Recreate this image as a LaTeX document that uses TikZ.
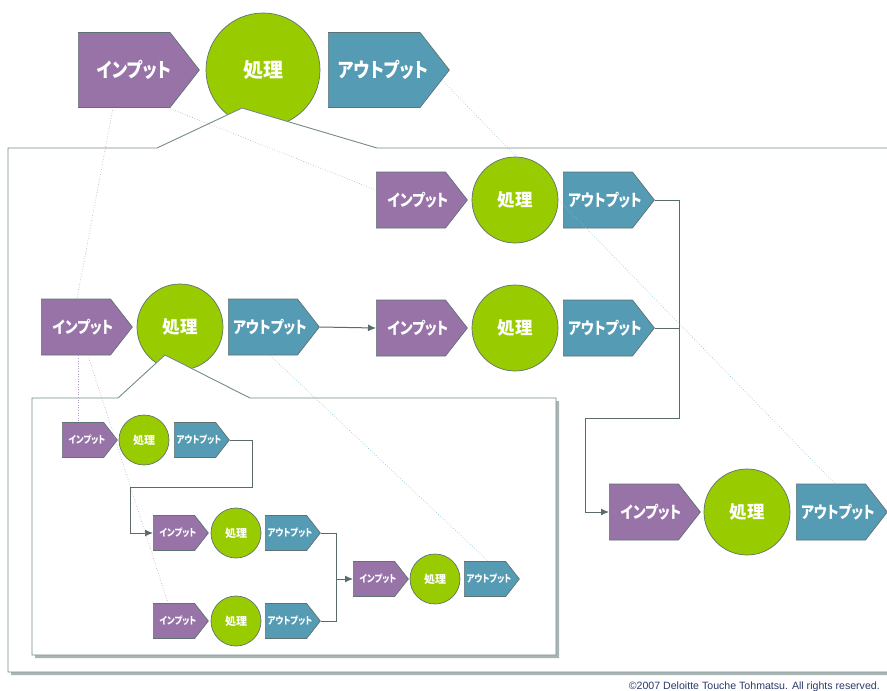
\documentclass[tikz,border=0pt]{standalone}
\usepackage{fontspec}
\usetikzlibrary{shapes.symbols,arrows.meta,calc}
\newfontfamily\jpfont{Noto Sans CJK JP}[RawFeature=+palt]
\newfontfamily\notefont{Liberation Sans}
% fixed-size label, nudged toward the pointer of the arrow box
\newcommand\kana[2]{\makebox[0pt]{\hspace*{#1}\scalebox{0.84}[1]{#2}}}
\definecolor{inpc}{HTML}{9773A8}
\definecolor{procc}{HTML}{99CC00}
\definecolor{outc}{HTML}{559BB4}
\definecolor{edgec}{HTML}{5F7272}
\definecolor{framec}{HTML}{768A8A}
\definecolor{shadowc}{HTML}{A9B4B4}
\definecolor{linkc}{HTML}{5A6B6B}
\definecolor{dotp}{HTML}{B49ACA}
\definecolor{dotb}{HTML}{88BCCE}
\definecolor{notec}{HTML}{2B3A6B}
\begin{document}
\begin{tikzpicture}[x=1pt,y=-1pt,
  shapebase/.style={draw=edgec,line width=0.7pt,text=white,inner sep=0pt},
  arrowbox/.style={shapebase,signal,signal to=east,signal pointer angle=104,anchor=west},
  inbox/.style={arrowbox,fill=inpc},
  outbox/.style={arrowbox,fill=outc},
  procbox/.style={shapebase,circle,fill=procc},
  lvA/.style={minimum width=121pt,minimum height=75pt,font=\jpfont\bfseries\fontsize{20}{20}\selectfont},
  lvB/.style={minimum width=91pt,minimum height=56pt,font=\jpfont\bfseries\fontsize{16.5}{16.5}\selectfont},
  lvC/.style={minimum width=55pt,minimum height=35pt,font=\jpfont\bfseries\fontsize{10}{10}\selectfont},
  cA/.style={procbox,minimum size=114pt,font=\jpfont\bfseries\fontsize{20}{20}\selectfont},
  cB/.style={procbox,minimum size=86pt,font=\jpfont\bfseries\fontsize{17.5}{17.5}\selectfont},
  cC/.style={procbox,minimum size=50pt,font=\jpfont\bfseries\fontsize{11}{11}\selectfont},
  callout/.style={draw=framec,line width=0.9pt,fill=white},
  calloutshadow/.style={fill=shadowc},
  link/.style={draw=linkc,line width=1pt},
  linkarrow/.style={link,-{Latex[length=8pt,width=7pt]}},
  dotpurple/.style={draw=dotp,dotted,line width=0.6pt},
  dotblue/.style={draw=dotb,dotted,line width=0.6pt}]
\useasboundingbox (0,0) rectangle (887,691);
\clip (0,0) rectangle (887,691);
\fill[white] (0,0) rectangle (887,691);

% top level
\node[inbox,lvA] (ti) at (78,70) {\kana{20pt}{インプット}};
\node[cA] (tp) at (263,70) {処理};
\node[outbox,lvA] (to) at (328,70) {\kana{18pt}{アウトプット}};

% main callout frame
\begin{scope}[shift={(3,3)}]
  \fill[calloutshadow] (8,148) -- (157,148) -- (242,108) -- (377,148) -- (900,148) -- (900,672) -- (8,672) -- cycle;
\end{scope}
\draw[callout] (8,148) -- (157,148) -- (242,108) -- (377,148) -- (900,148) -- (900,672) -- (8,672) -- cycle;

% second level
\node[inbox,lvB] (li) at (41,327) {\kana{14pt}{インプット}};
\node[cB] (lp) at (180,327) {処理};
\node[outbox,lvB] (lo) at (228,327) {\kana{14pt}{アウトプット}};

\node[inbox,lvB] (ai) at (376,200) {\kana{14pt}{インプット}};
\node[cB] (ap) at (515,200) {処理};
\node[outbox,lvB] (ao) at (563,200) {\kana{14pt}{アウトプット}};

\node[inbox,lvB] (bi) at (376,328) {\kana{14pt}{インプット}};
\node[cB] (bp) at (515,328) {処理};
\node[outbox,lvB] (bo) at (563,328) {\kana{14pt}{アウトプット}};

\node[inbox,lvB] (ri) at (609,512) {\kana{14pt}{インプット}};
\node[cB] (rp) at (747,512) {処理};
\node[outbox,lvB] (ro) at (796,512) {\kana{14pt}{アウトプット}};

% inner callout frame
\begin{scope}[shift={(3,3)}]
  \fill[calloutshadow] (32,398) -- (118,398) -- (165,355) -- (250,398) -- (556,398) -- (556,655) -- (32,655) -- cycle;
\end{scope}
\draw[callout] (32,398) -- (118,398) -- (165,355) -- (250,398) -- (556,398) -- (556,655) -- (32,655) -- cycle;

% third level
\node[inbox,lvC] (s1i) at (62,440) {\kana{8pt}{インプット}};
\node[cC] (s1p) at (144,440) {処理};
\node[outbox,lvC] (s1o) at (174,440) {\kana{8pt}{アウトプット}};

\node[inbox,lvC] (s2i) at (153,533) {\kana{8pt}{インプット}};
\node[cC] (s2p) at (236,533) {処理};
\node[outbox,lvC] (s2o) at (265,533) {\kana{8pt}{アウトプット}};

\node[inbox,lvC] (s3i) at (153,621) {\kana{8pt}{インプット}};
\node[cC] (s3p) at (236,621) {処理};
\node[outbox,lvC] (s3o) at (265,621) {\kana{8pt}{アウトプット}};

\node[inbox,lvC] (s4i) at (353,579) {\kana{8pt}{インプット}};
\node[cC] (s4p) at (435,579) {処理};
\node[outbox,lvC] (s4o) at (464,579) {\kana{8pt}{アウトプット}};

% flow connectors
\draw[linkarrow] (lo.east) -- (bi.west);
\coordinate (ja) at (679,418);
\coordinate (jb) at (585,418);
\draw[linkarrow] (ao.east) -| (ja) -- (jb) |- (ri.west);
\draw[link] (bo.east) -- (bo.east -| ja);

\coordinate (ka) at (252,487);
\coordinate (kb) at (130,487);
\draw[linkarrow] (s1o.east) -| (ka) -- (kb) |- (s2i.west);
\coordinate (km) at (336,579);
\draw[link] (s2o.east) -| (km);
\draw[link] (s3o.east) -| (km);
\draw[linkarrow] (km) -- (s4i.west);

% decomposition guides
\draw[dotpurple] ([xshift=35pt]ti.south west) -- ([xshift=36pt]li.north west);
\draw[dotpurple] ([xshift=90pt]ti.south west) -- ([yshift=10pt]ai.west);
\draw[dotpurple] ([xshift=37pt]li.south west) -- ([xshift=16pt]s1i.north west);
\draw[dotpurple] ([xshift=47pt]li.south west) -- ([xshift=15pt]s3i.north west);
\draw[dotblue] ([xshift=-6pt,yshift=-12pt]to.east) -- ([xshift=39pt]ro.north west);
\draw[dotblue] ([xshift=42pt]lo.south west) -- ([xshift=24pt]s4o.north west);

\node[anchor=east,font=\notefont\fontsize{10.6}{10.6}\selectfont,text=notec,inner sep=0pt] (cr) at (880,687) {©2007 Deloitte Touche Tohmatsu. All rights reserved.};
\end{tikzpicture}
\end{document}
